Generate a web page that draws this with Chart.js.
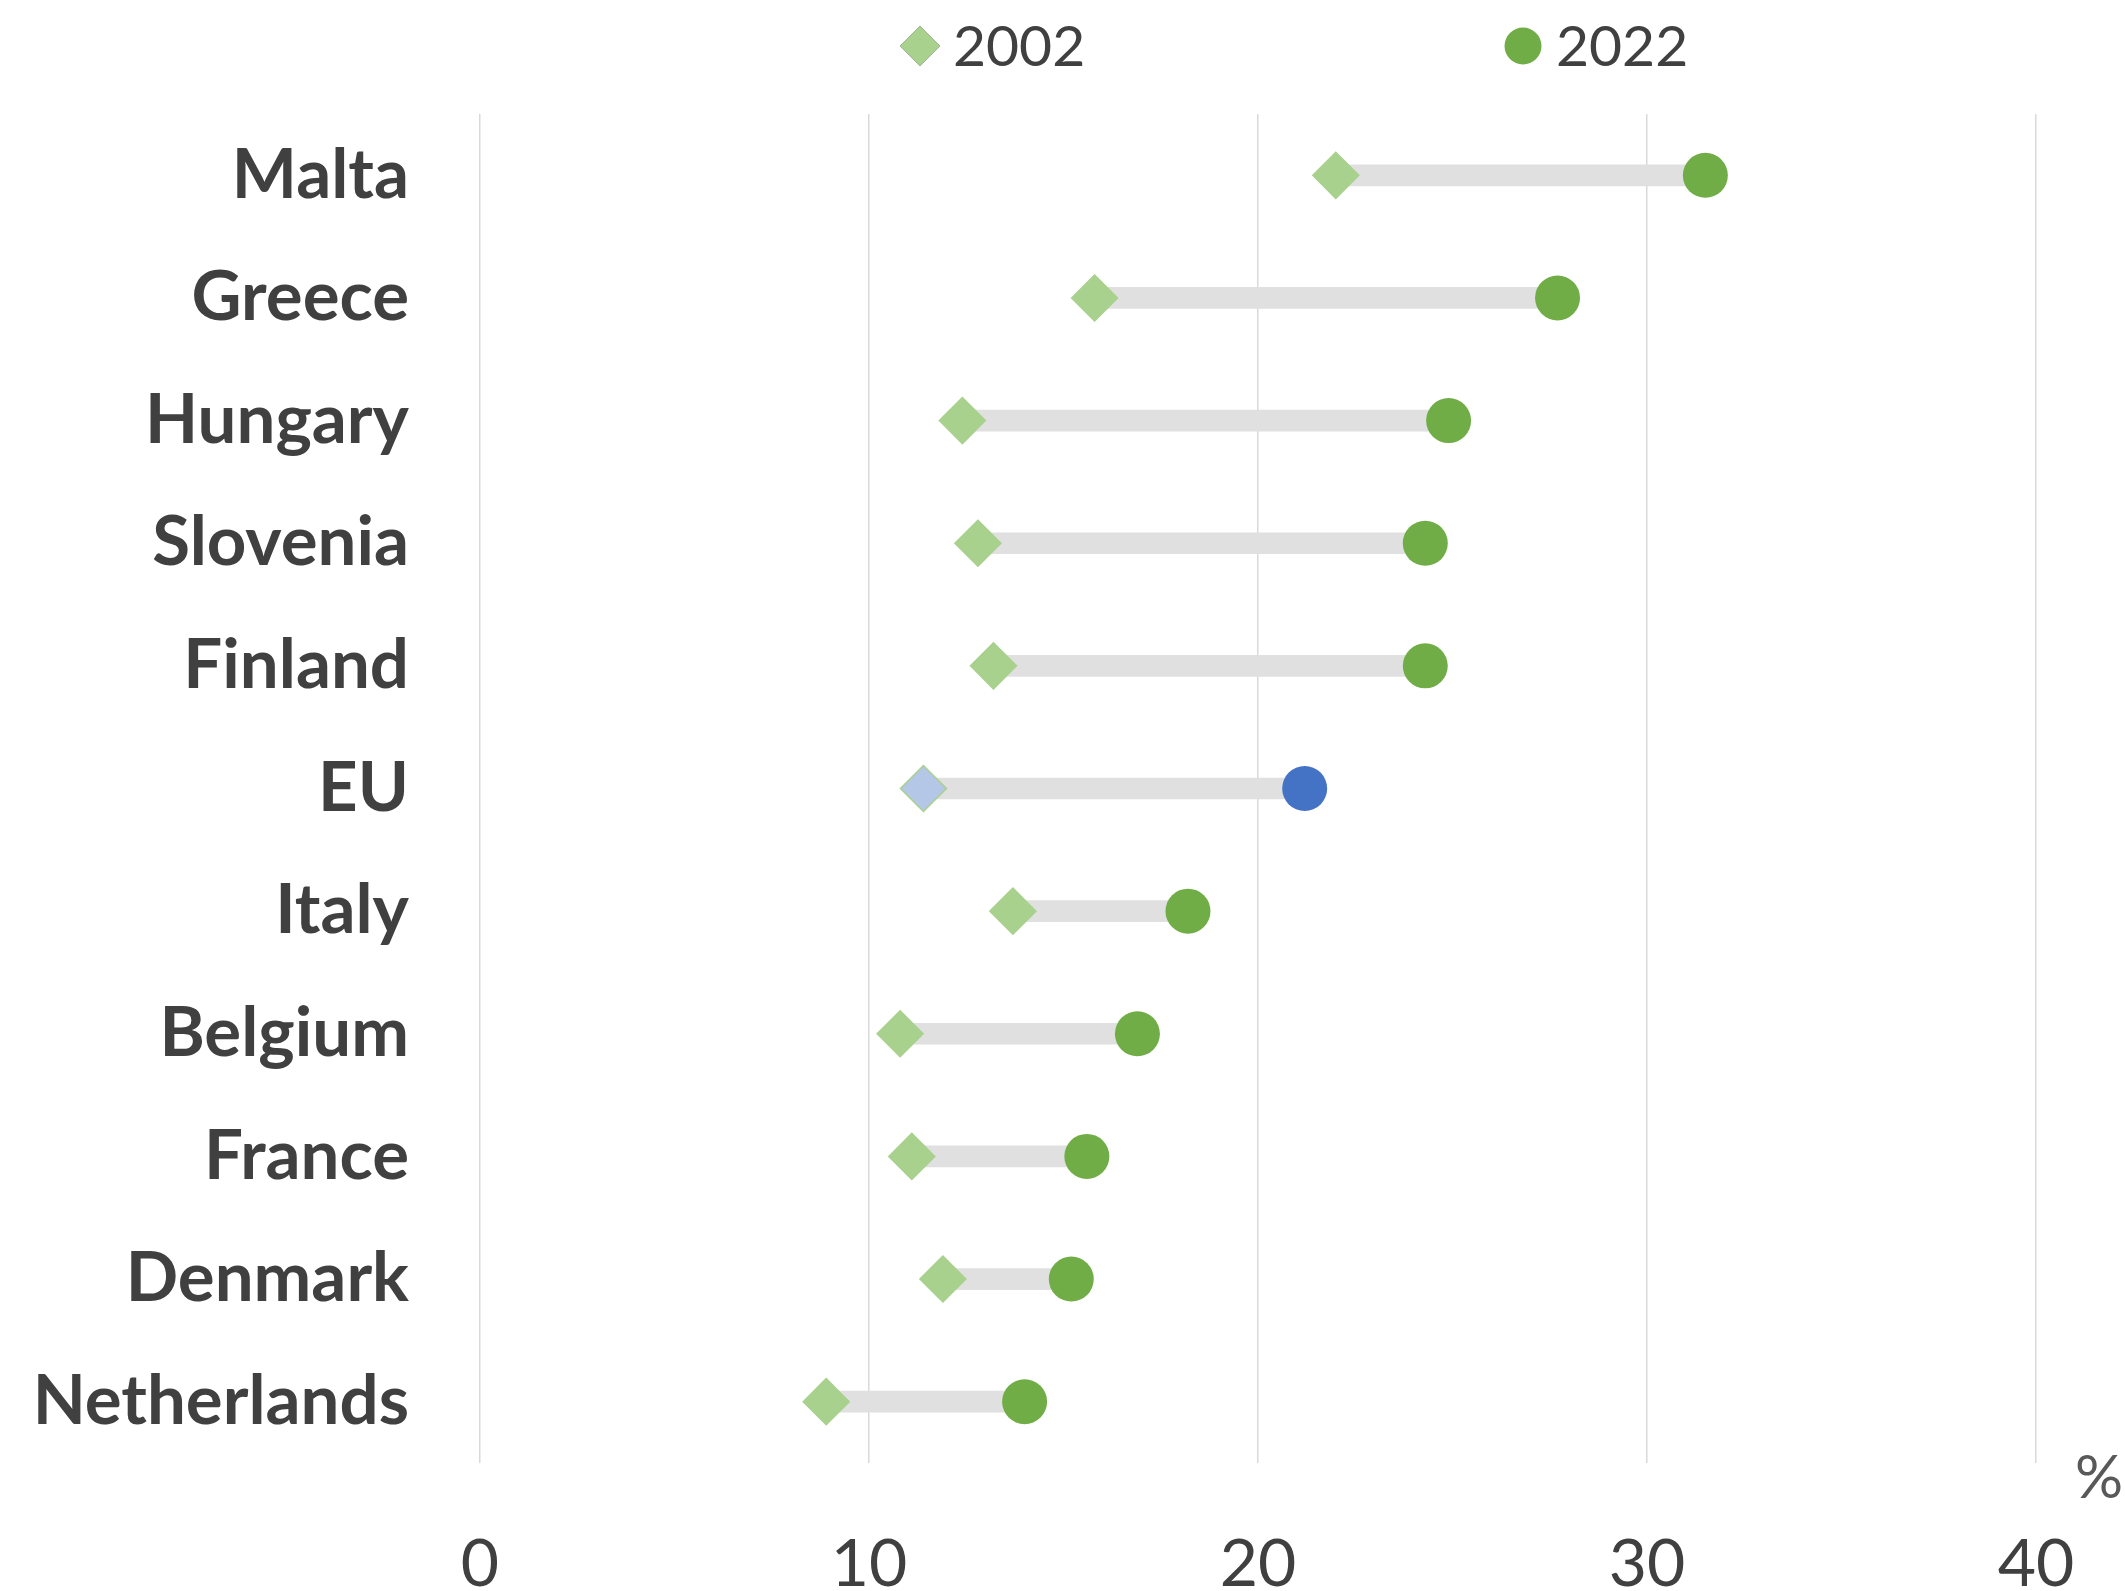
<!DOCTYPE html>
<html>
<head>
<meta charset="utf-8">
<script src="https://cdn.jsdelivr.net/npm/chart.js@4"></script>
<style>
  html, body { margin: 0; padding: 0; background: #fff; }
  #wrap { width: 2125px; height: 1591px; }
</style>
</head>
<body>
<div id="wrap"><canvas id="chart" width="2125" height="1591"></canvas></div>
<script>
// ── Data
const countries = ['Malta', 'Greece', 'Hungary', 'Slovenia', 'Finland', 'EU', 'Italy', 'Belgium', 'France', 'Denmark', 'Netherlands'];
const values2002 = [22.0, 15.8, 12.4, 12.8, 13.2, 11.4, 13.7, 10.8, 11.1, 11.9, 8.9];
const values2022 = [31.5, 27.7, 24.9, 24.3, 24.3, 21.2, 18.2, 16.9, 15.6, 15.2, 14.0];
const xTicks = [0, 10, 20, 30, 40];

const TEXT = '#404040';
const GREEN_LIGHT = '#a9d18e';
const GREEN = '#70ad47';
const BLUE_LIGHT = '#b4c7e7';
const BLUE = '#4472c4';

const isEU = c => c === 'EU';
const fill2002 = countries.map(c => isEU(c) ? BLUE_LIGHT : GREEN_LIGHT);
const fill2022 = countries.map(c => isEU(c) ? BLUE : GREEN);
const ranges = countries.map((c, i) => [values2002[i], values2022[i]]);

// ── Legend + unit label drawn by hand (wide gap between items like the original)
const extras = {
  id: 'extras',
  afterDraw(chart) {
    const { ctx, chartArea } = chart;
    ctx.save();
    ctx.font = '57px Lato';
    ctx.fillStyle = TEXT;
    ctx.textBaseline = 'middle';
    ctx.textAlign = 'left';
    const ly = 46;
    Chart.helpers.drawPoint(ctx, { pointStyle: 'rectRot', radius: 20, borderWidth: 0 }, 920, ly);
    ctx.fillStyle = GREEN_LIGHT; ctx.fill();
    ctx.fillStyle = TEXT;
    ctx.fillText('2002', 953, ly + 2);
    ctx.beginPath();
    ctx.arc(1523, ly, 18.5, 0, Math.PI * 2);
    ctx.fillStyle = GREEN; ctx.fill();
    ctx.fillStyle = TEXT;
    ctx.fillText('2022', 1556, ly + 2);

    ctx.font = '60px Lato';
    ctx.fillStyle = '#595959';
    ctx.textAlign = 'center';
    ctx.fillText('%', chartArea.right + 63, chartArea.bottom + 16);
    ctx.restore();
  }
};

new Chart(document.getElementById('chart'), {
  type: 'bar',
  data: {
    labels: countries,
    datasets: [
      {
        label: 'range',
        data: ranges,
        backgroundColor: '#e0e0e0',
        barThickness: 21,
        borderSkipped: false,
        order: 3,
      },
      {
        type: 'line',
        label: '2002',
        data: values2002,
        showLine: false,
        pointStyle: 'rectRot',
        pointRadius: 23,
        pointBackgroundColor: fill2002,
        pointBorderColor: GREEN_LIGHT,
        pointBorderWidth: 1.5,
        order: 2,
      },
      {
        type: 'line',
        label: '2022',
        data: values2022,
        showLine: false,
        pointStyle: 'circle',
        pointRadius: 22.5,
        pointBackgroundColor: fill2022,
        pointBorderWidth: 0,
        order: 1,
      },
    ]
  },
  options: {
    indexAxis: 'y',
    responsive: false,
    animation: false,
    events: [],
    layout: { padding: { top: 114, right: 89, bottom: 0, left: 0 } },
    plugins: {
      legend: { display: false },
      tooltip: { enabled: false },
    },
    scales: {
      x: {
        type: 'linear',
        min: 0,
        max: 40,
        afterBuildTicks: s => { s.ticks = xTicks.map(v => ({ value: v })); },
        afterFit: s => { s.height = 128; s.paddingLeft = 0; s.paddingRight = 0; },
        grid: { color: '#d9d9d9', lineWidth: 1.5, drawTicks: false },
        border: { display: false },
        ticks: { color: TEXT, font: { family: 'Lato', size: 66 }, padding: 62 },
      },
      y: {
        type: 'category',
        offset: true,
        afterFit: s => { s.width = 480; s.paddingTop = 0; s.paddingBottom = 0; },
        grid: { display: false },
        border: { display: false },
        ticks: { color: TEXT, font: { family: 'Lato', size: 69, weight: 'bold' }, padding: 63 },
      }
    }
  },
  plugins: [extras]
});
</script>
</body>
</html>
